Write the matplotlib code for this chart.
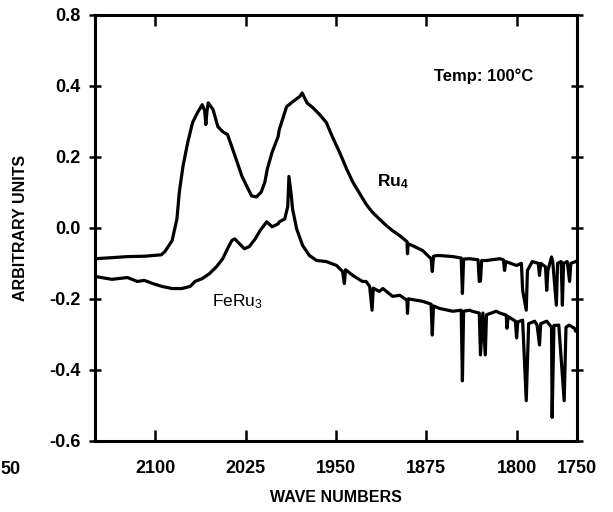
import matplotlib.pyplot as plt

plt.rcParams['font.family'] = ['Liberation Sans', 'DejaVu Sans']

# Ru4 spectrum (upper trace)
ru4_wn = [2150, 2136, 2123, 2109, 2095, 2092, 2086, 2082, 2080, 2077, 2073, 2069,
          2065, 2061, 2059, 2058, 2057, 2056, 2052, 2048, 2044, 2040, 2036.5, 2032,
          2028, 2024, 2020, 2016, 2012, 2009, 2007, 2003, 1998, 1997, 1991, 1986,
          1980, 1978, 1974, 1969, 1963.5, 1958, 1953, 1947, 1941, 1936, 1930, 1925,
          1920, 1914, 1908, 1903, 1897, 1891, 1890.6, 1890, 1886.5, 1878, 1871, 1870,
          1869, 1866, 1864, 1853, 1846, 1845, 1844, 1839, 1832, 1831, 1830, 1829,
          1825, 1814, 1811, 1810, 1809, 1800, 1796, 1795, 1792, 1791, 1787, 1782,
          1781, 1780, 1776, 1775, 1774, 1771, 1770, 1767, 1766, 1763, 1762, 1761,
          1758, 1756, 1755, 1751]
ru4_abs = [-0.087, -0.084, -0.081, -0.080, -0.076, -0.067, -0.036, 0.025, 0.101, 0.173, 0.241, 0.297,
           0.324, 0.347, 0.330, 0.291, 0.330, 0.352, 0.333, 0.285, 0.271, 0.263, 0.229, 0.185,
           0.145, 0.117, 0.090, 0.087, 0.101, 0.129, 0.165, 0.213, 0.257, 0.277, 0.341, 0.355,
           0.370, 0.380, 0.352, 0.338, 0.319, 0.297, 0.257, 0.213, 0.165, 0.129, 0.095, 0.067,
           0.045, 0.025, 0.006, -0.008, -0.022, -0.039, -0.073, -0.045, -0.050, -0.064, -0.087, -0.123,
           -0.080, -0.078, -0.078, -0.081, -0.085, -0.185, -0.088, -0.087, -0.090, -0.151, -0.150, -0.092,
           -0.092, -0.087, -0.090, -0.120, -0.095, -0.106, -0.100, -0.176, -0.232, -0.120, -0.095, -0.100,
           -0.134, -0.100, -0.110, -0.176, -0.120, -0.082, -0.095, -0.218, -0.100, -0.095, -0.218, -0.100,
           -0.095, -0.151, -0.100, -0.095]

# FeRu3 spectrum (lower trace)
feru3_wn = [2150, 2136, 2123, 2115, 2109, 2102, 2094.5, 2086, 2078, 2071, 2067, 2061,
            2055, 2049, 2044, 2040, 2036.5, 2034, 2030, 2026, 2022, 2017, 2013, 2007.5,
            2003, 1998, 1997, 1992.5, 1990, 1989, 1987, 1986, 1982.6, 1977.6, 1972, 1966,
            1958, 1949.5, 1944.5, 1943, 1942, 1936, 1928, 1925, 1922, 1920, 1919, 1914,
            1911, 1903, 1897, 1891, 1890.6, 1890, 1878, 1871, 1870, 1869, 1864, 1853,
            1846, 1845, 1844, 1839, 1837, 1831, 1830, 1828, 1826, 1825, 1817, 1814,
            1808.6, 1808, 1807, 1801, 1800, 1799, 1795, 1792, 1790, 1785, 1783, 1781,
            1780, 1775, 1771, 1770.5, 1769, 1765, 1760.5, 1759, 1756.4, 1752, 1751]
feru3_abs = [-0.137, -0.145, -0.140, -0.151, -0.148, -0.157, -0.165, -0.171, -0.171, -0.165, -0.151, -0.143,
             -0.129, -0.109, -0.087, -0.059, -0.036, -0.031, -0.045, -0.059, -0.053, -0.031, -0.008, 0.017,
             0.003, 0.011, 0.017, 0.025, 0.060, 0.145, 0.090, 0.053, -0.003, -0.050, -0.078, -0.092,
             -0.095, -0.106, -0.123, -0.157, -0.118, -0.134, -0.151, -0.151, -0.165, -0.232, -0.170, -0.179,
             -0.171, -0.193, -0.190, -0.204, -0.241, -0.200, -0.207, -0.215, -0.302, -0.220, -0.227, -0.235,
             -0.232, -0.431, -0.235, -0.232, -0.235, -0.240, -0.358, -0.240, -0.358, -0.245, -0.235, -0.240,
             -0.246, -0.283, -0.250, -0.263, -0.310, -0.265, -0.260, -0.487, -0.270, -0.263, -0.274, -0.330,
             -0.270, -0.263, -0.280, -0.534, -0.275, -0.274, -0.487, -0.280, -0.274, -0.283, -0.290]

x_ticks = [2100, 2025, 1950, 1875, 1800, 1750]
y_ticks = [-0.6, -0.4, -0.2, 0.0, 0.2, 0.4, 0.6]
y_ticklabels = ['-0.6', '-0.4', '-0.2', '0.0', '0.2', '0.4', '0.8']

fig = plt.figure(figsize=(6.13, 5.12), dpi=100)
ax = fig.add_axes([0.155, 0.139, 0.786, 0.832])

ax.plot(ru4_wn, ru4_abs, color='black', lw=2.3)
ax.plot(feru3_wn, feru3_abs, color='black', lw=2.3)

ax.set_xlim(2150, 1750)
ax.set_ylim(-0.6, 0.6)
ax.set_xticks(x_ticks)
ax.set_xticklabels([str(t) for t in x_ticks])
ax.set_yticks(y_ticks)
ax.set_yticklabels(y_ticklabels)

for s in ax.spines.values():
    s.set_linewidth(2.2)

ax.tick_params(axis='x', which='both', direction='in', top=True, length=8, width=1.8,
               pad=14, labelsize=13)
ax.tick_params(axis='y', which='both', direction='inout', right=True, length=9, width=1.8,
               pad=6, labelsize=13)
for lab in ax.get_xticklabels() + ax.get_yticklabels():
    lab.set_fontweight('bold')

ax.set_xlabel('WAVE NUMBERS', fontsize=11.5, fontweight='bold', labelpad=9)
ax.set_ylabel('ARBITRARY UNITS', fontsize=11.5, fontweight='bold', labelpad=15)

ax.text(1827, 0.428, 'Temp: 100°C', fontsize=12, fontweight='bold', ha='center', va='center')
ax.text(1903, 0.129, r'$\mathregular{Ru_4}$', fontsize=12.5, fontweight='bold',
        ha='center', va='center')
ax.text(2032, -0.207, r'$\mathregular{FeRu_3}$', fontsize=12.5, ha='center', va='center')

# fragment of a neighbouring panel's tick label at the left edge
fig.text(0.0, 1 - 470 / 512, '50', fontsize=13, fontweight='bold', ha='left', va='center')

fig.savefig('out.png', dpi=100)
